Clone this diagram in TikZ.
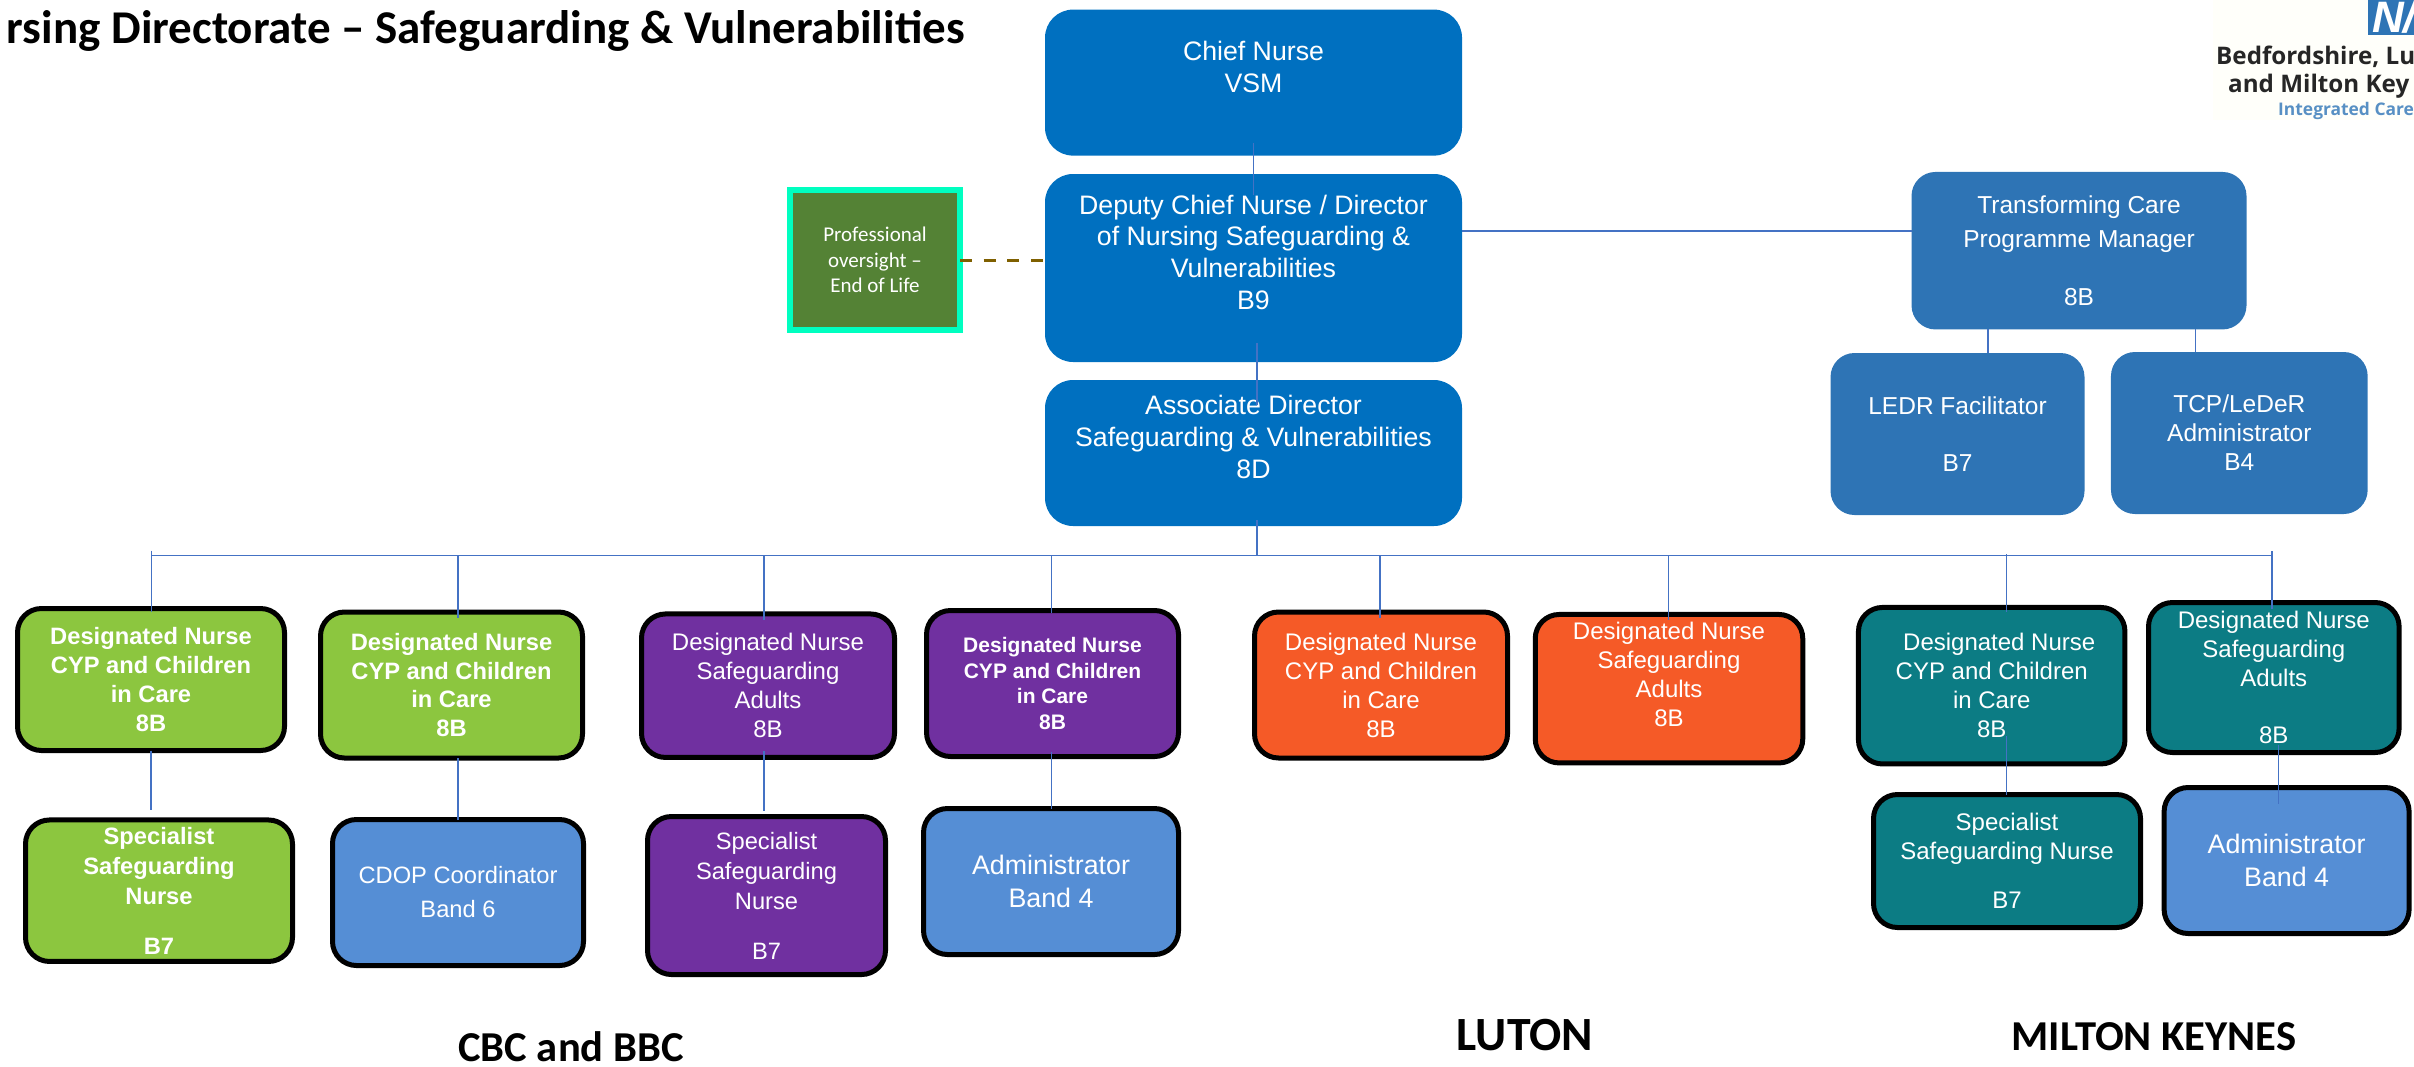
\documentclass[tikz,border=0pt]{standalone}
\usepackage{fontspec}
\setmainfont{Liberation Sans}
\newfontfamily\calib{Carlito}
\newfontfamily\logofont{Open Sans}
\definecolor{nhsblue}{HTML}{0070C0}
\definecolor{midblue}{HTML}{2E74B5}
\definecolor{softblue}{HTML}{558ED5}
\definecolor{limegreen}{HTML}{8CC63F}
\definecolor{darkgreen}{HTML}{548235}
\definecolor{mint}{HTML}{00FFC0}
\definecolor{plum}{HTML}{7030A0}
\definecolor{flame}{HTML}{F55A27}
\definecolor{teal}{HTML}{0C7C84}
\definecolor{linkblue}{HTML}{4472C4}
\definecolor{dashbrown}{HTML}{7F6000}
\tikzset{
  card/.style={rectangle,rounded corners=24pt,inner sep=0pt,outer sep=0pt,align=center,text=white},
  topcard/.style={card,fill=nhsblue,rounded corners=28pt,minimum width=417pt,font=\fontsize{26.7}{31.8}\selectfont},
  tcpcard/.style={card,fill=midblue,font=\fontsize{24.5}{29}\selectfont},
  teamcard/.style={card,draw=black,line width=5pt,font=\fontsize{24}{29}\selectfont},
  boldcard/.style={teamcard,font=\fontsize{23.7}{28.7}\selectfont\bfseries},
  conn/.style={draw=linkblue,line width=1.3pt},
  area/.style={font=\calib\bfseries\fontsize{42.6}{48}\selectfont,anchor=base,inner sep=0pt},
  logotext/.style={font=\logofont\bfseries\fontsize{24.2}{28}\selectfont,text=black!85,anchor=base west,inner sep=0pt}
}
\begin{document}
\begin{tikzpicture}[x=1pt,y=-1pt]
\useasboundingbox (0,0) rectangle (2414,1066);
% title and logo
\node[font=\calib\bfseries\fontsize{47}{52}\selectfont,anchor=base east,inner sep=0pt] (title) at (965,43) {rsing Directorate – Safeguarding \& Vulnerabilities};
\fill[fill=white!98!yellow] (2213,0) rectangle (2414,120);
\fill[fill=midblue] (2368,0) rectangle (2414,35);
\node[font=\bfseries\itshape\fontsize{44}{44}\selectfont,text=white,anchor=base west,inner sep=0pt] (nhs) at (2372,32) {N/};
\node[logotext] (ccgone) at (2216,64) {Bedfordshire, Lu};
\node[logotext] (ccgtwo) at (2228,92) {and Milton Key};
\node[logotext,font=\logofont\bfseries\fontsize{17.4}{20}\selectfont,text=midblue!80] (ccgthree) at (2278,115) {Integrated Care};
% top of the chart
\node[topcard,minimum height=146pt] (chief) at (1253.5,82.6) {Chief Nurse\\VSM\\~};
\node[topcard,minimum height=188pt] (deputy) at (1253.5,268) {Deputy Chief Nurse / Director\\of Nursing Safeguarding \&\\Vulnerabilities\\B9\\~};
\node[topcard,minimum height=146pt] (assoc) at (1253.5,453) {Associate Director\\Safeguarding \& Vulnerabilities\\8D\\~};
\node[rectangle,fill=darkgreen,draw=mint,line width=6pt,minimum width=170pt,minimum height=139.5pt,inner sep=0pt,outer sep=0pt,align=center,text=white,font=\calib\fontsize{21}{25.5}\selectfont] (eol) at (875,260) {Professional\\oversight –\\End of Life};
\node[tcpcard,minimum width=335pt,minimum height=157.5pt,font=\fontsize{24.5}{34}\selectfont] (tcm) at (2079,250.7) {Transforming Care\\Programme Manager\\[24.6pt]8B};
\node[tcpcard,minimum width=254pt,minimum height=162pt] (ledr) at (1957.5,434) {LEDR Facilitator\\[28pt]B7};
\node[tcpcard,minimum width=256.7pt,minimum height=162pt] (tcpadmin) at (2239.3,433) {TCP/LeDeR\\Administrator\\B4};
% CBC and BBC
\node[boldcard,fill=limegreen,minimum width=267pt,minimum height=142pt] (dncbc) at (151,679.5) {Designated Nurse\\CYP and Children\\in Care\\8B};
\node[boldcard,fill=limegreen,minimum width=262pt,minimum height=146pt] (dnbbc) at (451.5,685) {Designated Nurse\\CYP and Children\\in Care\\8B};
\node[teamcard,fill=plum,minimum width=253pt,minimum height=143.5pt] (dnadults) at (768,685.7) {Designated Nurse\\Safeguarding\\Adults\\8B};
\node[boldcard,fill=plum,minimum width=252pt,minimum height=146pt,font=\fontsize{21}{25.6}\selectfont\bfseries] (dncyp) at (1052.5,683.5) {Designated Nurse\\CYP and Children\\in Care\\8B};
\node[boldcard,fill=limegreen,minimum width=267pt,minimum height=141.5pt,font=\fontsize{23.7}{30}\selectfont\bfseries] (specbc) at (159,890.7) {Specialist\\Safeguarding\\Nurse\\[20pt]B7};
\node[teamcard,fill=softblue,minimum width=251pt,minimum height=146pt,font=\fontsize{23.7}{34}\selectfont] (cdop) at (458,892.5) {CDOP Coordinator\\Band 6};
\node[teamcard,fill=plum,minimum width=238pt,minimum height=158pt,font=\fontsize{23.7}{30}\selectfont] (specadults) at (766.5,895.5) {Specialist\\Safeguarding\\Nurse\\[20pt]B7};
\node[teamcard,fill=softblue,minimum width=255pt,minimum height=146pt,font=\fontsize{26.8}{33.5}\selectfont] (adminbbc) at (1051,881.5) {Administrator\\Band 4};
% Luton
\node[teamcard,fill=flame,minimum width=253pt,minimum height=146pt] (dnluton) at (1381,685) {Designated Nurse\\CYP and Children\\in Care\\8B};
\node[teamcard,fill=flame,minimum width=267.5pt,minimum height=148.5pt] (saluton) at (1669,688.7) {Designated Nurse\\Safeguarding\\Adults\\8B\\~};
% Milton Keynes
\node[teamcard,fill=teal,minimum width=266.5pt,minimum height=156.5pt] (dnmk) at (1991.7,685.7) {\hspace*{15pt}Designated Nurse\\CYP and Children\\in Care\\8B};
\node[teamcard,fill=teal,minimum width=250.6pt,minimum height=150pt] (samk) at (2273.8,677.5) {Designated Nurse\\Safeguarding\\Adults\\[28pt]8B};
\node[teamcard,fill=teal,minimum width=267pt,minimum height=133pt] (specmk) at (2007,861) {Specialist\\Safeguarding Nurse\\[20pt]B7};
\node[teamcard,fill=softblue,minimum width=245pt,minimum height=146pt,font=\fontsize{26.8}{33.5}\selectfont] (adminmk) at (2286.6,860.5) {Administrator\\Band 4};
% area names
\node[area] (cbc) at (571,1061) {CBC and BBC};
\node[area,font=\calib\bfseries\fontsize{47.7}{52}\selectfont] (luton) at (1525,1050) {LUTON};
\node[area] (mk) at (2154,1050) {MILTON KEYNES};
% connectors
\coordinate (busl) at (151.5,555.5);
\coordinate (busr) at (2272,555.5);
\coordinate (busm) at (1257,555.5);
\coordinate (drop2) at (458,555.5);
\coordinate (drop3) at (764,555.5);
\coordinate (drop4) at (1051.5,555.5);
\coordinate (drop5) at (1380,555.5);
\coordinate (drop6) at (1668.4,555.5);
\coordinate (drop7) at (2006.8,555.5);
\coordinate (drop8) at (2278.5,555.5);
\coordinate (tcjoin) at (1911.5,231);
\coordinate (ledrtop) at (1988,352);
\coordinate (tcptop) at (2195.5,352);
\draw[conn,shorten <=-12.7pt,shorten >=-21pt] (chief.south) -- (deputy.north);
\draw[conn,shorten <=-19pt,shorten >=-25pt] (busm |- deputy.south) -- (busm |- assoc.north);
\draw[conn,shorten <=-6pt] (busm |- assoc.south) -- (busm);
\draw[conn] (tcjoin -| deputy.east) -- (tcjoin);
\draw[line width=3pt,draw=dashbrown,dash pattern=on 12pt off 11.67pt] (eol.east) -- (eol.east -| deputy.west);
\draw[conn] (ledrtop |- tcm.south) -- (ledrtop |- ledr.north);
\draw[conn] (tcptop |- tcm.south) -- (tcptop |- tcpadmin.north);
\draw[conn] (busl) -- (busr);
\draw[conn,shorten <=-5pt,shorten >=-3pt] (busl) -- (busl |- dncbc.north);
\draw[conn,shorten >=-6pt] (drop2) -- (drop2 |- dnbbc.north);
\draw[conn,shorten >=-6pt] (drop3) -- (drop3 |- dnadults.north);
\draw[conn,shorten >=-2pt] (drop4) -- (drop4 |- dncyp.north);
\draw[conn,shorten >=-6pt] (drop5) -- (drop5 |- dnluton.north);
\draw[conn,shorten >=-6pt] (drop6) -- (drop6 |- saluton.north);
\draw[conn,shorten <=-1.5pt,shorten >=-5pt] (drop7) -- (drop7 |- dnmk.north);
\draw[conn,shorten <=-4.5pt,shorten >=-6pt] (busr) -- (busr |- samk.north);
\draw[conn,shorten >=10pt] (dncbc.south) -- (dncbc.south |- specbc.north);
\draw[conn] (drop2 |- dnbbc.south) -- (drop2 |- cdop.north);
\draw[conn,shorten <=-6pt,shorten >=6pt] (drop3 |- dnadults.south) -- (drop3 |- specadults.north);
\draw[conn,shorten <=-5pt] (drop4 |- dncyp.south) -- (drop4 |- adminbbc.north);
\draw[conn,shorten <=-28pt] (drop7 |- dnmk.south) -- (drop7 |- specmk.north);
\draw[conn,shorten <=-7.5pt,shorten >=-16pt] (drop8 |- samk.south) -- (drop8 |- adminmk.north);
\end{tikzpicture}
\end{document}
